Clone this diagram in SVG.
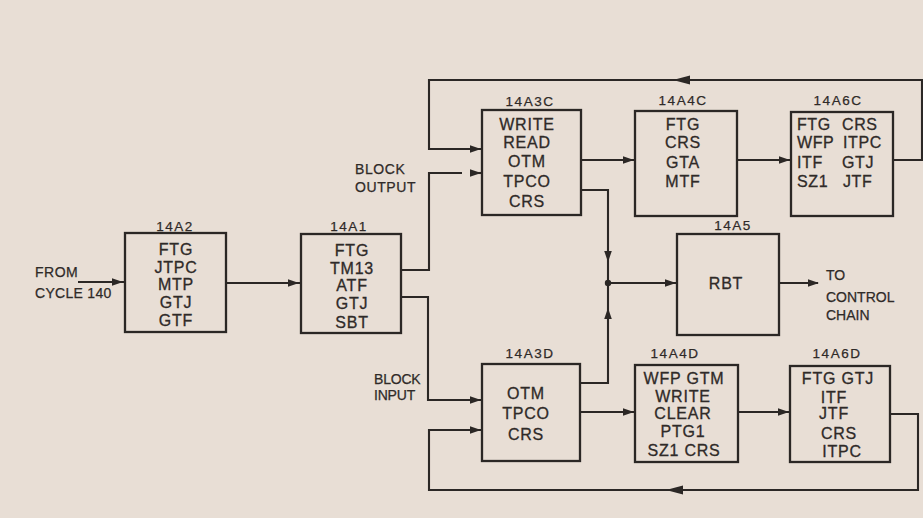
<svg xmlns="http://www.w3.org/2000/svg" width="923" height="518" viewBox="0 0 923 518">
<defs>
<style>
.bx{fill:none;stroke:#2b2725;stroke-width:2.3}
.ln{fill:none;stroke:#2b2725;stroke-width:2.1;stroke-linejoin:miter}
.t{font-family:"Liberation Sans",Arial,sans-serif;font-size:16px;fill:#2f2a28;stroke:#2f2a28;stroke-width:0.3;text-anchor:middle;letter-spacing:0.8px}
.ts{font-family:"Liberation Sans",Arial,sans-serif;font-size:16px;fill:#2f2a28;stroke:#2f2a28;stroke-width:0.3;letter-spacing:0.6px}
.lb{font-family:"Liberation Sans",Arial,sans-serif;font-size:13.5px;fill:#2f2a28;stroke:#2f2a28;stroke-width:0.25;text-anchor:middle;letter-spacing:1.5px}
.nt{font-family:"Liberation Sans",Arial,sans-serif;font-size:14px;fill:#2f2a28;stroke:#2f2a28;stroke-width:0.25}
.ah{fill:#2b2725}
</style>
<path id="ah" d="M0,0 L-11,-3.8 L-11,3.8 Z"/>
<path id="ahL" d="M0,0 L-17,-4.5 L-17,4.5 Z"/>
</defs>
<rect width="923" height="518" fill="#e8ded5"/>

<g id="connectors">
<path class="ln" d="M78,282 H125"/>
<path class="ln" d="M226,283 H301"/>
<path class="ln" d="M401,270 H429 V173 H462"/>
<path class="ln" d="M470,173 H482"/>
<path class="ln" d="M482,149 H429 V80 H922 V160 H893"/>
<path class="ln" d="M581,160 H635"/>
<path class="ln" d="M737,160 H791"/>
<path class="ln" d="M581,190 H608 V383 H580"/>
<path class="ln" d="M608,283 H677"/>
<path class="ln" d="M779,283 H818"/>
<path class="ln" d="M401,297 H428 V400 H482"/>
<path class="ln" d="M580,412 H635"/>
<path class="ln" d="M738,412 H790"/>
<path class="ln" d="M890,414 H918 V490 H429 V430 H482"/>
<circle cx="608" cy="283" r="3.2" class="ah"/>
<use href="#ah" class="ah" x="123" y="282"/>
<use href="#ah" class="ah" x="299" y="283"/>
<use href="#ah" class="ah" x="481" y="149"/>
<use href="#ah" class="ah" x="481" y="173"/>
<use href="#ah" class="ah" x="634" y="160"/>
<use href="#ah" class="ah" x="790" y="160"/>
<use href="#ahL" class="ah" transform="translate(673,80) rotate(180)"/>
<use href="#ah" class="ah" transform="translate(608,262) rotate(90)"/>
<use href="#ah" class="ah" transform="translate(608,308) rotate(-90)"/>
<use href="#ah" class="ah" x="676" y="283"/>
<use href="#ah" class="ah" x="819" y="283"/>
<use href="#ah" class="ah" x="481" y="400"/>
<use href="#ah" class="ah" x="481" y="430"/>
<use href="#ah" class="ah" x="634" y="412"/>
<use href="#ah" class="ah" x="789" y="412"/>
<use href="#ahL" class="ah" transform="translate(666,490) rotate(180)"/>
</g>

<g id="labels">
<text class="nt" x="35" y="277" letter-spacing="0.5">FROM</text>
<text class="nt" x="35" y="298" letter-spacing="0.3">CYCLE 140</text>
<text class="nt" x="355" y="174" font-size="15" letter-spacing="0.6">BLOCK</text>
<text class="nt" x="355" y="192" font-size="15" letter-spacing="0.6">OUTPUT</text>
<text class="nt" x="374" y="384" letter-spacing="-0.2">BLOCK</text>
<text class="nt" x="374" y="400" letter-spacing="-0.2">INPUT</text>
<text class="nt" x="826" y="280">TO</text>
<text class="nt" x="826" y="302">CONTROL</text>
<text class="nt" x="826" y="320">CHAIN</text>
</g>

<g id="n14A2">
<rect class="bx" x="125" y="233" width="101" height="99"/>
<text class="lb" x="175" y="231">14A2</text>
<text class="t" x="176" y="254.5">FTG</text>
<text class="t" x="176" y="272.5">JTPC</text>
<text class="t" x="176" y="290">MTP</text>
<text class="t" x="176" y="307.5">GTJ</text>
<text class="t" x="176" y="325.5">GTF</text>
</g>

<g id="n14A1">
<rect class="bx" x="301" y="234" width="100" height="99"/>
<text class="lb" x="349" y="231">14A1</text>
<text class="t" x="352" y="255.5">FTG</text>
<text class="t" x="352" y="273.5">TM13</text>
<text class="t" x="352" y="291">ATF</text>
<text class="t" x="352" y="309">GTJ</text>
<text class="t" x="352" y="327.5">SBT</text>
</g>

<g id="n14A3C">
<rect class="bx" x="482" y="110" width="99" height="105"/>
<text class="lb" x="530" y="106">14A3C</text>
<text class="t" x="527" y="130">WRITE</text>
<text class="t" x="527" y="148">READ</text>
<text class="t" x="527" y="167">OTM</text>
<text class="t" x="527" y="187">TPCO</text>
<text class="t" x="527" y="207">CRS</text>
</g>

<g id="n14A4C">
<rect class="bx" x="635" y="111" width="102" height="105"/>
<text class="lb" x="683" y="105">14A4C</text>
<text class="t" x="683" y="130">FTG</text>
<text class="t" x="683" y="148">CRS</text>
<text class="t" x="683" y="168">GTA</text>
<text class="t" x="683" y="187">MTF</text>
</g>

<g id="n14A6C">
<rect class="bx" x="791" y="112" width="102" height="104"/>
<text class="lb" x="838" y="105">14A6C</text>
<text class="ts" y="130"><tspan x="797">FTG</tspan><tspan x="842">CRS</tspan></text>
<text class="ts" y="148"><tspan x="797">WFP</tspan><tspan x="843">ITPC</tspan></text>
<text class="ts" y="168"><tspan x="797">ITF</tspan><tspan x="842">GTJ</tspan></text>
<text class="ts" y="187"><tspan x="797">SZ1</tspan><tspan x="843">JTF</tspan></text>
</g>

<g id="n14A5">
<rect class="bx" x="677" y="234" width="102" height="101"/>
<text class="lb" x="733" y="230">14A5</text>
<text class="t" x="726" y="289">RBT</text>
</g>

<g id="n14A3D">
<rect class="bx" x="482" y="364" width="98" height="97"/>
<text class="lb" x="530" y="358">14A3D</text>
<text class="t" x="526" y="399">OTM</text>
<text class="t" x="526" y="418.5">TPCO</text>
<text class="t" x="526" y="439.5">CRS</text>
</g>

<g id="n14A4D">
<rect class="bx" x="635" y="365" width="103" height="97"/>
<text class="lb" x="675" y="358">14A4D</text>
<text class="t" x="684" y="384">WFP GTM</text>
<text class="t" x="683" y="401.5">WRITE</text>
<text class="t" x="683" y="418.5">CLEAR</text>
<text class="t" x="683" y="437">PTG1</text>
<text class="t" x="684" y="455.5">SZ1 CRS</text>
</g>

<g id="n14A6D">
<rect class="bx" x="790" y="366" width="100" height="96"/>
<text class="lb" x="837" y="358">14A6D</text>
<text class="t" x="838" y="384">FTG GTJ</text>
<text class="t" x="834" y="402.5">ITF</text>
<text class="t" x="834" y="419">JTF</text>
<text class="t" x="839" y="438.5">CRS</text>
<text class="t" x="842" y="456.5">ITPC</text>
</g>
</svg>
